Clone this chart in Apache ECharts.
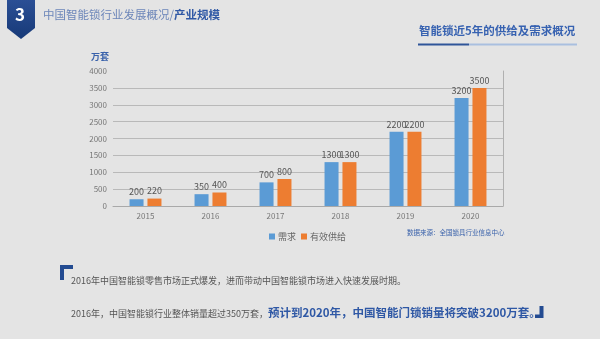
<!DOCTYPE html>
<html>
<head>
<meta charset="utf-8">
<script src="https://cdn.jsdelivr.net/npm/echarts@6/dist/echarts.min.js"></script>
<style>
html,body{margin:0;padding:0;background:#e4e4e4;}
#chart{width:600px;height:339px;}
</style>
</head>
<body>
<div id="chart"></div>
<script>
// Years and values (万套)
const years = ['2015', '2016', '2017', '2018', '2019', '2020'];
const demand = [200, 350, 700, 1300, 2200, 3200];
const supply = [220, 400, 800, 1300, 2200, 3500];
const seriesNames = ['需求', '有效供给'];
const yTicks = { min: 0, max: 4000, interval: 500 };

const FONT = '"Noto Sans CJK SC", "Noto Sans", sans-serif';
const chart = echarts.init(document.getElementById('chart'), null, { renderer: 'canvas' });

const labelStyle = { show: true, position: 'top', distance: 3, color: '#555', fontSize: 9, fontFamily: FONT };

chart.setOption({
  backgroundColor: '#e4e4e4',
  textStyle: { fontFamily: FONT },
  animation: false,
  grid: { left: 113, right: 97, top: 71, bottom: 133 },
  legend: {
    data: seriesNames,
    left: 264, top: 227,
    icon: 'rect', itemWidth: 6, itemHeight: 6, itemGap: 5,
    textStyle: { color: '#666', fontSize: 9, padding: [0, 0, 0, -2] }
  },
  xAxis: {
    type: 'category',
    data: years,
    axisLine: { lineStyle: { color: '#a9a9a9' } },
    axisTick: { show: false },
    axisLabel: { color: '#777', fontSize: 8, margin: 6 }
  },
  yAxis: [{
    type: 'value',
    min: yTicks.min, max: yTicks.max, interval: yTicks.interval,
    name: '万套',
    nameLocation: 'end',
    nameGap: 10,
    nameTextStyle: { color: '#3a62ab', fontSize: 9, fontWeight: 'bold', align: 'right', padding: [0, 4, 0, 0] },
    axisLine: { show: false },
    axisTick: { show: false },
    axisLabel: { color: '#777', fontSize: 8, margin: 6, formatter: (v) => String(v) },
    splitLine: { showMaxLine: false, lineStyle: { color: '#b9b9b9', width: 1 } }
  }, {
    type: 'value',
    position: 'right',
    min: yTicks.min, max: yTicks.max, interval: yTicks.interval,
    axisLine: { show: true, lineStyle: { color: '#b0b0b0' } },
    axisTick: { show: false },
    axisLabel: { show: false },
    splitLine: { show: false }
  }],
  series: [{
    name: seriesNames[0],
    type: 'bar',
    data: demand,
    barWidth: 14,
    barGap: '28%',
    itemStyle: { color: '#5b9bd5' },
    label: labelStyle
  }, {
    name: seriesNames[1],
    type: 'bar',
    data: supply,
    barWidth: 14,
    itemStyle: { color: '#ed7d31' },
    label: labelStyle
  }],
  graphic: [
    // section badge
    {
      type: 'polygon',
      shape: { points: [[7, 0], [35, 0], [35, 28], [21, 39], [7, 28]] },
      style: {
        fill: new echarts.graphic.LinearGradient(0, 0, 0, 1, [
          { offset: 0, color: '#2b4f95' }, { offset: 1, color: '#173a78' }
        ])
      }
    },
    { type: 'text', left: 15, top: 6, style: { text: '3', fill: '#fff', font: 'bold 17px ' + FONT } },
    // header path
    {
      type: 'text', left: 43, top: 9,
      style: {
        text: '{a|中国智能锁行业发展概况/}{b|产业规模}',
        rich: {
          a: { fill: '#6c86b9', fontSize: 11.5, fontFamily: FONT },
          b: { fill: '#2f58a5', fontSize: 11.5, fontWeight: 'bold', fontFamily: FONT }
        }
      }
    },
    // chart heading with underline
    { type: 'text', left: 419, top: 25, style: { text: '智能锁近5年的供给及需求概况', fill: '#3762b1', font: 'bold 11.5px ' + FONT } },
    { type: 'rect', shape: { x: 418, y: 43.5, width: 51, height: 2 }, style: { fill: '#2f5599' } },
    { type: 'rect', shape: { x: 469, y: 43.5, width: 108, height: 2 }, style: { fill: '#a9bfdf' } },
    // data source
    { type: 'text', left: 407, top: 229, style: { text: '数据来源：全国锁具行业信息中心', fill: '#3a62ab', font: '6.5px ' + FONT } },
    // quote brackets
    {
      type: 'polygon',
      shape: { points: [[60, 265], [73, 265], [73, 269], [64, 269], [64, 280], [60, 280]] },
      style: { fill: '#234b91' }
    },
    {
      type: 'polygon',
      shape: { points: [[539.5, 306], [543.5, 306], [543.5, 318], [535, 318], [535, 314.5], [539.5, 314.5]] },
      style: { fill: '#234b91' }
    },
    // summary text
    { type: 'text', left: 71, top: 276, style: { text: '2016年中国智能锁零售市场正式爆发，进而带动中国智能锁市场进入快速发展时期。', fill: '#555', font: '9px ' + FONT } },
    {
      type: 'text', left: 71, top: 307,
      style: {
        text: '{a|2016年，中国智能锁行业整体销量超过350万套，}{b|预计到2020年，中国智能门锁销量将突破3200万套。}',
        rich: {
          a: { fill: '#555', fontSize: 9, fontFamily: FONT, verticalAlign: 'bottom' },
          b: { fill: '#2f58a5', fontSize: 11.5, fontWeight: 'bold', fontFamily: FONT, verticalAlign: 'bottom' }
        }
      }
    }
  ]
});
</script>
</body>
</html>
